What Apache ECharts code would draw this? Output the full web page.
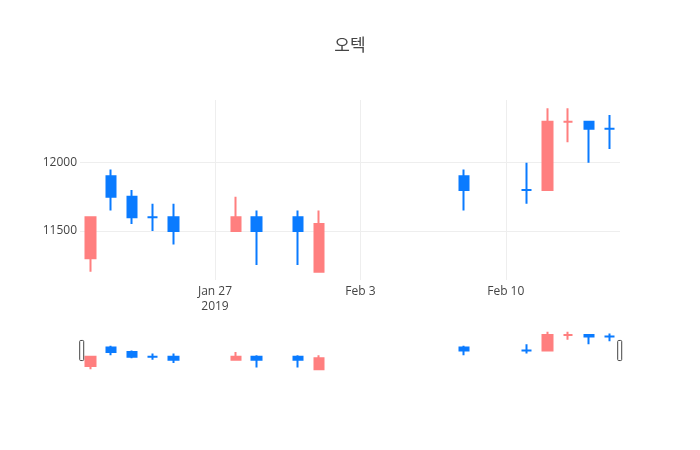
<!DOCTYPE html>
<html>
<head>
<meta charset="utf-8">
<script src="https://cdn.jsdelivr.net/npm/echarts@6/dist/echarts.min.js"></script>
<style>html,body{margin:0;padding:0;background:#fff}#c{width:700px;height:450px}</style>
</head>
<body>
<div id="c"></div>
<script>
const dates = ['2019-01-21','2019-01-22','2019-01-23','2019-01-24','2019-01-25','2019-01-28','2019-01-29','2019-01-31','2019-02-01','2019-02-08','2019-02-11','2019-02-12','2019-02-13','2019-02-14','2019-02-15'];
const opens  = [11300,11900,11750,11600,11600,11500,11600,11600,11200,11900,11800,11800,12300,12300,12250];
const closes = [11600,11750,11600,11600,11500,11600,11500,11500,11550,11800,11800,12300,12300,12250,12250];
const lows   = [11200,11650,11550,11500,11400,11500,11250,11250,11200,11650,11700,11800,12150,12000,12100];
const highs  = [11600,11950,11800,11700,11700,11750,11650,11650,11650,11950,12000,12400,12400,12300,12350];
const xTickDates = ['2019-01-27','2019-02-03','2019-02-10'];
const yTickValues = [11500, 12000];
const title = '오텍';

const UP = '#ff7f7f', DOWN = '#0a7bff';
const FONT = '"Open Sans", "Noto Sans CJK KR", sans-serif';
const MONTHS = ['Jan','Feb','Mar','Apr','May','Jun','Jul','Aug','Sep','Oct','Nov','Dec'];
function toTime(s){ const p = s.split('-').map(Number); return new Date(p[0], p[1]-1, p[2]).getTime(); }
const DAY = 86400000;

// direction per Plotly rule
const dirs = [];
for (let i = 0; i < dates.length; i++) {
  let d;
  if (closes[i] > opens[i]) d = 1;
  else if (closes[i] < opens[i]) d = -1;
  else if (i > 0 && closes[i] > closes[i-1]) d = 1;
  else if (i > 0 && closes[i] < closes[i-1]) d = -1;
  else d = i > 0 ? dirs[i-1] : 1;
  dirs.push(d);
}
const data = dates.map((s, i) => {
  const item = { value: [toTime(s), opens[i], closes[i], lows[i], highs[i]] };
  if (opens[i] === closes[i]) {
    const c = dirs[i] > 0 ? UP : DOWN;
    item.itemStyle = { color: c, color0: c, borderColor: c, borderColor0: c, borderColorDoji: c };
  }
  return item;
});

const yMinD = Math.min(...lows), yMaxD = Math.max(...highs);
const yPad = (yMaxD - yMinD) * 0.05;
const yMin = yMinD - yPad, yMax = yMaxD + yPad;
const xMin = toTime(dates[0]) - DAY / 2, xMax = toTime(dates[dates.length-1]) + DAY / 2;
const xTicks = xTickDates.map(toTime);

const candleStyle = { color: UP, color0: DOWN, borderColor: UP, borderColor0: DOWN, borderWidth: 2 };

const chart = echarts.init(document.getElementById('c'), null, { renderer: 'canvas' });
chart.setOption({
  animation: false,
  backgroundColor: '#fff',
  title: { text: title, left: 'center', top: 33, textStyle: { fontFamily: FONT, fontSize: 17, fontWeight: 'normal', color: '#444' } },
  grid: [
    { left: 80, right: 80, top: 100, height: 180 },
    { left: 80, right: 80, top: 330, height: 41 }
  ],
  xAxis: [
    { type: 'value', gridIndex: 0, min: xMin, max: xMax, scale: true,
      axisLine: { show: false }, axisTick: { show: false, customValues: xTicks },
      splitLine: { show: true, lineStyle: { color: '#eee', width: 1 } },
      axisLabel: { customValues: xTicks, margin: 4, color: '#444', fontSize: 12, fontFamily: FONT, lineHeight: 15, hideOverlap: false,
        formatter: function (v) {
          const d = new Date(v);
          const s = MONTHS[d.getMonth()] + ' ' + d.getDate();
          return v === xTicks[0] ? s + '\n' + d.getFullYear() : s;
        } } },
    { type: 'value', gridIndex: 1, min: xMin, max: xMax, scale: true, show: false }
  ],
  yAxis: [
    { type: 'value', gridIndex: 0, min: yMin, max: yMax, scale: true,
      axisLine: { show: false }, axisTick: { show: false, customValues: yTickValues },
      splitLine: { show: true, lineStyle: { color: '#eee', width: 1 } },
      axisLabel: { customValues: yTickValues, margin: 3, color: '#444', fontSize: 12, fontFamily: FONT,
        formatter: function (v) { return String(v); } } },
    { type: 'value', gridIndex: 1, min: yMin, max: yMax, scale: true, show: false }
  ],
  dataZoom: [{
    type: 'slider', xAxisIndex: 0, left: 80, right: 80, top: 330, height: 41, start: 0, end: 100,
    showDataShadow: false, showDetail: false, brushSelect: false, moveHandleSize: 0,
    backgroundColor: 'rgba(0,0,0,0)', borderColor: 'rgba(0,0,0,0)', fillerColor: 'rgba(0,0,0,0)',
    handleIcon: 'path://M1,0H3Q4,0 4,1V19Q4,20 3,20H1Q0,20 0,19V1Q0,0 1,0Z',
    handleSize: '49%',
    handleStyle: { color: '#fff', borderColor: '#444', borderWidth: 1 },
    emphasis: { handleStyle: { color: '#fff', borderColor: '#444', borderWidth: 1 } },
    z: 10
  }],
  series: [
    { type: 'candlestick', xAxisIndex: 0, yAxisIndex: 0, data: data, barWidth: 10,
      encode: { x: 0, y: [1, 2, 3, 4] }, itemStyle: candleStyle, silent: true },
    { type: 'candlestick', xAxisIndex: 1, yAxisIndex: 1, data: data, barWidth: 10,
      encode: { x: 0, y: [1, 2, 3, 4] }, itemStyle: candleStyle, silent: true }
  ]
});
</script>
</body>
</html>
